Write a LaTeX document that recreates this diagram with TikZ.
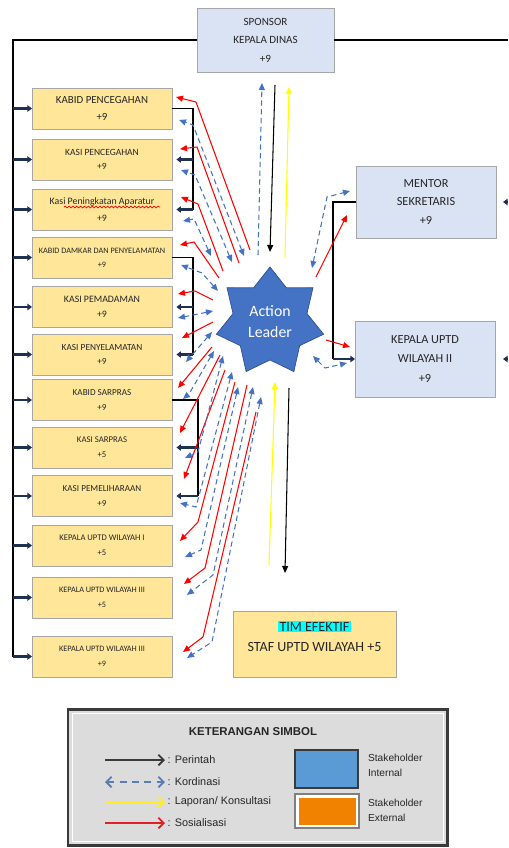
\documentclass[tikz,border=0pt]{standalone}
\usepackage{fontspec}
\setmainfont{Carlito}
\newfontfamily\legendfont{Liberation Sans}
\usetikzlibrary{shapes.geometric,arrows.meta,positioning,decorations.pathmorphing}

\definecolor{boxyellow}{HTML}{FFE699}
\definecolor{boxblue}{HTML}{DAE3F3}
\definecolor{boxline}{HTML}{A6A6A6}
\definecolor{textdark}{HTML}{262626}
\definecolor{starblue}{HTML}{4472C4}
\definecolor{starline}{HTML}{2F528F}
\definecolor{cmdnavy}{HTML}{203050}
\definecolor{kordblue}{HTML}{4472C4}
\definecolor{sosred}{HTML}{FF0000}
\definecolor{lapyellow}{HTML}{FFFF00}
\definecolor{hlcyan}{HTML}{00FFFF}
\definecolor{legendgray}{HTML}{DCDCDC}
\definecolor{legendline}{HTML}{3A3A3A}
\definecolor{intblue}{HTML}{5B9BD5}
\definecolor{extorange}{HTML}{F08200}
\definecolor{lgblue}{HTML}{5B7DB1}
\definecolor{lgyellow}{HTML}{FFEB2A}
\definecolor{lgred}{HTML}{E31E24}

\tikzset{
  hd/.tip={Triangle[length=4pt,width=3.4pt]},
  ybox/.style={draw=boxline, fill=boxyellow, text=textdark, minimum width=2.8cm,
    minimum height=0.82cm, inner sep=0pt, outer sep=0pt, align=center},
  bbox/.style={draw=boxline, fill=boxblue, text=textdark, inner sep=0pt,
    outer sep=0pt, align=center},
  fsz/.style n args={2}{font=\fontsize{#1}{#2}\selectfont},
  lnk/.style={draw=black, line width=0.6pt},
  cmd/.style={draw=cmdnavy, line width=1.3pt, -{Triangle[length=2.6pt,width=3.6pt]}},
  prt/.style={draw=black, line width=0.6pt, -hd},
  rd/.style={draw=sosred, line width=0.6pt, -hd},
  kd/.style={draw=kordblue, line width=0.6pt, dash pattern=on 3pt off 2pt, hd-hd},
  kdone/.style={draw=kordblue, line width=0.6pt, dash pattern=on 3pt off 2pt, -hd},
  lap/.style={draw=lapyellow, line width=0.6pt, -hd},
  lgarrow/.style={line width=1.1pt, -{Straight Barb[length=3pt,width=6pt]}},
  lgtext/.style={anchor=west, inner sep=1pt, text=textdark, font=\legendfont\fontsize{6.2}{8.5}\selectfont, align=left}
}

\begin{document}
\begin{tikzpicture}[x=0.02cm,y=-0.02cm]
\useasboundingbox (0,0) rectangle (508,848);

% sponsor, action leader
\node[bbox, minimum width=2.74cm, minimum height=1.28cm, fsz={6.3}{10.5}] (sp) at (265.5,40) {SPONSOR\\KEPALA DINAS\\+9};
\node[star, star points=7, star point ratio=1.45, minimum size=2.2cm, inner sep=0pt,
  fill=starblue, draw=starline, text=white, align=center, fsz={9}{12}] (al) at (270,322) {Action\\Leader};

% kotak kiri
\node[ybox, fsz={6.2}{10}] (b1) at (102,108.5) {KABID PENCEGAHAN\\+9};
\node[ybox, fsz={5.4}{8}] (b2) at (102,159.5) {KASI PENCEGAHAN\\+9};
\node[ybox, fsz={5.6}{9.5}] (b3) at (102,209.5) {Kasi Peningkatan Aparatur\\+9};
\node[ybox, fsz={4.7}{8}] (b4) at (102,257.5) {KABID DAMKAR DAN PENYELAMATAN\\+9};
\node[ybox, fsz={5.6}{8.5}] (b5) at (102,307) {KASI PEMADAMAN\\+9};
\node[ybox, fsz={5.3}{8.5}] (b6) at (102,354.5) {KASI PENYELAMATAN\\+9};
\node[ybox, fsz={5.2}{8.5}] (b7) at (102,400) {KABID SARPRAS\\+9};
\node[ybox, fsz={5}{8.5}] (b8) at (102,447.5) {KASI SARPRAS\\+5};
\node[ybox, fsz={5.2}{8.5}] (b9) at (102,496) {KASI PEMELIHARAAN\\+9};
\node[ybox, fsz={4.9}{8.5}] (b10) at (102,545.5) {KEPALA UPTD WILAYAH I\\+5};
\node[ybox, fsz={4.7}{8.5}] (b11) at (102,597.5) {KEPALA UPTD WILAYAH III\\+5};
\node[ybox, fsz={4.7}{8.5}] (b12) at (102,656.5) {KEPALA UPTD WILAYAH III\\+9};
\draw[sosred, line width=0.4pt, decorate, decoration={snake, amplitude=0.5pt, segment length=2.2pt}] (64,207) -- (160,207);

% kotak kanan
\node[bbox, minimum width=2.8cm, minimum height=1.44cm, fsz={7}{10.8}] (mt) at (426,202) {MENTOR\\SEKRETARIS\\+9};
\node[bbox, minimum width=2.8cm, minimum height=1.52cm, fsz={7}{11}] (ku) at (425,359) {KEPALA UPTD\\WILAYAH II\\+9};
\node[ybox, minimum width=3.26cm, minimum height=1.32cm] (tm) at (314.5,644) {};
\node[below=0.2cm of tm.north, align=center, inner sep=0pt, text=textdark, fsz={8}{11.3}] (tmt) {\setlength{\fboxsep}{0.6pt}\colorbox{hlcyan}{TIM EFEKTIF}\\STAF UPTD WILAYAH +5};

% garis perintah
\coordinate (lt) at (13,40);
\coordinate (rt) at (508,40);
\draw[lnk] (sp.west) -- (lt) -- (lt |- b12.west);
\draw[lnk] (sp.east) -- (rt);
\draw[cmd] (lt |- b1.west) -- (b1.west);
\draw[cmd] (lt |- b2.west) -- (b2.west);
\draw[cmd] (lt |- b3.west) -- (b3.west);
\draw[cmd] (lt |- b4.west) -- (b4.west);
\draw[cmd] (lt |- b5.west) -- (b5.west);
\draw[cmd] (lt |- b6.west) -- (b6.west);
\draw[cmd] (lt |- b7.west) -- (b7.west);
\draw[cmd] (lt |- b8.west) -- (b8.west);
\draw[cmd] (lt |- b9.west) -- (b9.west);
\draw[cmd] (lt |- b10.west) -- (b10.west);
\draw[cmd] (lt |- b11.west) -- (b11.west);
\draw[cmd] (lt |- b12.west) -- (b12.west);

\coordinate (k1) at (193,108.5);
\coordinate (k2) at (193,257.5);
\coordinate (k3) at (198,400);
\coordinate (k4) at (333,202);
\draw[lnk] (b1.east) -- (k1) -- (k1 |- b3.east);
\draw[cmd, shorten >=2.5pt] (k1 |- b2.east) -- (b2.east);
\draw[cmd, shorten >=2.5pt] (k1 |- b3.east) -- (b3.east);
\draw[lnk] (b4.east) -- (k2) -- (k2 |- b6.east);
\draw[cmd, shorten >=2.5pt] (k2 |- b5.east) -- (b5.east);
\draw[cmd, shorten >=2.5pt] (k2 |- b6.east) -- (b6.east);
\draw[lnk] (b7.east) -- (k3) -- (k3 |- b9.east);
\draw[cmd, shorten >=2.5pt] (k3 |- b8.east) -- (b8.east);
\draw[cmd, shorten >=2.5pt] (k3 |- b9.east) -- (b9.east);
\draw[lnk] (mt.west) -- (k4) -- (k4 |- ku.west);
\draw[cmd] (k4 |- ku.west) -- (ku.west);
\draw[cmd, line width=0.8pt] (mt.east -| rt) -- ++(-5,0);
\draw[cmd, line width=0.8pt] (ku.east -| rt) -- ++(-5,0);

% sponsor - action leader - tim efektif
\draw[prt] ([shift={(9.5,13)}]sp.south) -- ([shift={(0,-70)}]al.center);
\draw[kdone] ([shift={(-12,-67)}]al.center) -- ([shift={(-3.5,11)}]sp.south);
\draw[lap] ([shift={(15,-65)}]al.center) -- ([shift={(23.5,15)}]sp.south);
\draw[lap] ([shift={(-45.5,-46)}]tm.north) -- ([shift={(5,60)}]al.center);
\draw[prt] ([shift={(19,66)}]al.center) -- ([shift={(-29.5,-38)}]tm.north);

% sosialisasi ke kiri
\draw[rd] ([shift={(-20,-72)}]al.center) -- (196,102) -- ([shift={(4,-11.5)}]b1.east);
\draw[rd] ([shift={(-31,-59)}]al.center) -- (197,147) -- ([shift={(8,-10.5)}]b2.east);
\draw[rd] ([shift={(-47,-51)}]al.center) -- (198,204) -- ([shift={(9,-12.5)}]b3.east);
\draw[rd] ([shift={(-51,-44)}]al.center) -- (194,242) -- ([shift={(8,-12.5)}]b4.east);
\draw[rd] ([shift={(-57,-22)}]al.center) -- (195,291) -- ([shift={(6,-13)}]b5.east);
\draw[rd] ([shift={(-57,0)}]al.center) -- ([shift={(10,-16.5)}]b6.east);
\draw[rd] ([shift={(-58,25)}]al.center) -- ([shift={(6,-12)}]b7.east);
\draw[rd] ([shift={(-50,33)}]al.center) -- ([shift={(8,-14.5)}]b8.east);
\draw[rd] ([shift={(-45,48)}]al.center) -- ([shift={(12,-17)}]b9.east);
\draw[rd] ([shift={(-35,60)}]al.center) -- (198,522) -- ([shift={(8,-4.5)}]b10.east);
\draw[rd] ([shift={(-23,63)}]al.center) -- (205,568) -- ([shift={(12,-13.5)}]b11.east);
\draw[rd] ([shift={(-14,90)}]al.center) -- (203,637) -- ([shift={(11,-4.5)}]b12.east);

% kordinasi ke kiri
\draw[kd] ([shift={(-26,-66)}]al.center) -- (193,125) -- ([shift={(7,11.5)}]b1.east);
\draw[kd] ([shift={(-38,-60)}]al.center) -- (195,175) -- ([shift={(9,10.5)}]b2.east);
\draw[kd] ([shift={(-59,-66)}]al.center) -- (194,219) -- ([shift={(11,11.5)}]b3.east);
\draw[kd] ([shift={(-52,-31)}]al.center) -- (202,273) -- ([shift={(9,7.5)}]b4.east);
\draw[kd] ([shift={(-57,-11)}]al.center) -- (193,315) -- ([shift={(6,11)}]b5.east);
\draw[kd] ([shift={(-58,10)}]al.center) -- ([shift={(14,7.5)}]b6.east);
\draw[kd] ([shift={(-56,29)}]al.center) -- (189,394) -- ([shift={(11,-1)}]b7.east);
\draw[kd] ([shift={(-47,34)}]al.center) -- (198,452) -- ([shift={(13,10.5)}]b8.east);
\draw[kd] ([shift={(-38,50)}]al.center) -- (196,507) -- ([shift={(8,7)}]b9.east);
\draw[kd] ([shift={(-32,65)}]al.center) -- (201,550) -- ([shift={(13,11.5)}]b10.east);
\draw[kd] ([shift={(-17,65)}]al.center) -- (213,575) -- ([shift={(15,-2.5)}]b11.east);
\draw[kd] ([shift={(-9,75)}]al.center) -- (212,642) -- ([shift={(15,1.5)}]b12.east);

% ke kanan
\draw[kd] ([shift={(42,-54)}]al.center) -- (327,197) -- ([shift={(-6,-11)}]mt.west);
\draw[rd] ([shift={(46,-45)}]al.center) -- ([shift={(-9,13)}]mt.west);
\draw[rd] ([shift={(56,18)}]al.center) -- ([shift={(-5,-12)}]ku.west);
\draw[kd] ([shift={(43,34)}]al.center) -- (325,368) -- ([shift={(-8,4)}]ku.west);

% keterangan simbol
\draw[draw=legendline, line width=1.7pt, fill=legendgray] (68,709) rectangle (447,845);
\draw[white, line width=0.5pt] (72,713) rectangle (443,841);
\node[text=textdark, font=\legendfont\bfseries\fontsize{6.5}{7}\selectfont] (lgt) at (253,732) {KETERANGAN SIMBOL};
\coordinate (g1) at (105,760);
\coordinate (g2) at (105,782);
\coordinate (g3) at (105,802);
\coordinate (g4) at (105,823);
\draw[lgarrow, legendline] (g1) -- ++(60,0) node[lgtext] (l1) {: Perintah};
\draw[lgarrow, lgblue, dash pattern=on 4pt off 3pt, {Straight Barb[length=3pt,width=6pt]}-{Straight Barb[length=3pt,width=6pt]}] (g2) -- ++(60,0) node[lgtext] (l2) {: Kordinasi};
\draw[lgarrow, lgyellow] (g3) -- ++(60,0) node[lgtext] (l3) {: Laporan/ Konsultasi};
\draw[lgarrow, lgred] (g4) -- ++(60,0) node[lgtext] (l4) {: Sosialisasi};
\draw[draw=legendline, line width=0.8pt, fill=intblue] (295,750) rectangle (358,788);
\draw[draw=gray, line width=0.8pt, fill=white] (295,794) rectangle (359,828);
\fill[extorange] (298.5,797.5) rectangle (355.5,824.5);
\node[lgtext, font=\legendfont\fontsize{5.8}{8.5}\selectfont] (si) at (366,765) {Stakeholder\\Internal};
\node[lgtext, font=\legendfont\fontsize{5.8}{8.5}\selectfont] (se) at (366,810) {Stakeholder\\External};
\end{tikzpicture}
\end{document}
